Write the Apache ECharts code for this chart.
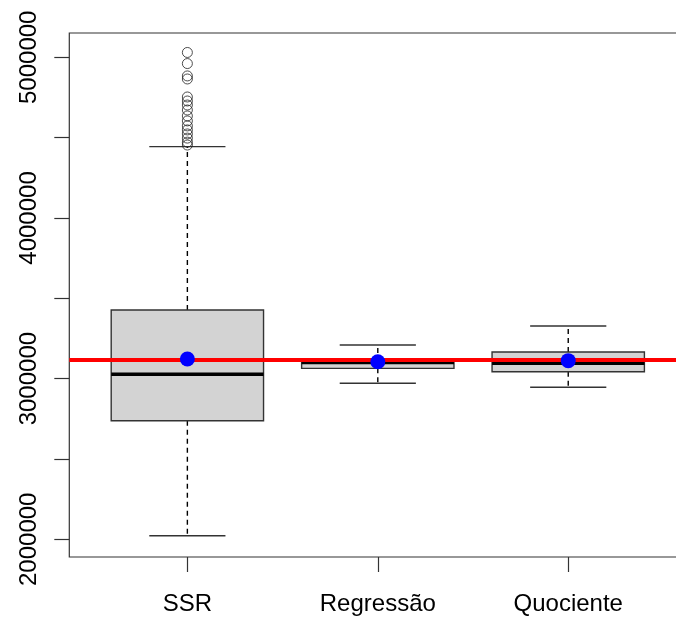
<!DOCTYPE html>
<html>
<head>
<meta charset="utf-8">
<script src="https://cdn.jsdelivr.net/npm/echarts@6/dist/echarts.min.js"></script>
<style>html,body{margin:0;padding:0;background:#fff}#c{width:676px;height:620px}</style>
</head>
<body>
<div id="c"></div>
<script>
// ---- data ----
var categories = ['SSR', 'Regressão', 'Quociente'];
var whiskerLow  = [2022000, 2971000, 2946000];
var q1          = [2738000, 3064000, 3043000];
var median      = [3027000, 3100000, 3095000];
var q3          = [3427000, 3103000, 3166000];
var whiskerHigh = [4444000, 3209000, 3328000];
var means       = [3122000, 3105000, 3112000];
var ssrOutliers = [5030000, 4961000, 4884000, 4865000, 4753000, 4728000, 4703000, 4672000,
                   4635000, 4604000, 4573000, 4548000, 4523000, 4497000, 4472000, 4454000];
var referenceLine = 3117000;
var yTicks  = [2000000, 2500000, 3000000, 3500000, 4000000, 4500000, 5000000];
var yLabels = [2000000, 3000000, 4000000, 5000000];

var boxData = categories.map(function (c, i) {
  return [i + 1, whiskerLow[i], q1[i], median[i], q3[i], whiskerHigh[i]];
});
var outlierData = ssrOutliers.map(function (v) { return [1, v]; });
var meanData = means.map(function (v, i) { return [i + 1, v]; });

var LINE = '#333';
var chart = echarts.init(document.getElementById('c'), null, {renderer: 'canvas'});
chart.setOption({
  animation: false,
  backgroundColor: '#fff',
  grid: {left: 69.3, top: 33, width: 617, height: 524, show: true, borderColor: LINE, borderWidth: 1.2,
         backgroundColor: 'transparent', containLabel: false, outerBoundsMode: 'none'},
  xAxis: {
    type: 'value', min: 0.38, max: 3.62,
    splitLine: {show: false},
    axisLine: {show: false},
    axisTick: {show: true, length: 15, customValues: [1, 2, 3], lineStyle: {color: LINE, width: 1.2}},
    axisLabel: {
      customValues: [1, 2, 3], margin: 35,
      fontFamily: 'Liberation Sans', fontSize: 24, color: '#000',
      formatter: function (v) { return categories[Math.round(v) - 1] || ''; }
    }
  },
  yAxis: {
    type: 'value', min: 1889800, max: 5151200,
    splitLine: {show: false},
    axisLine: {show: false},
    axisTick: {show: true, length: 15, customValues: yTicks, lineStyle: {color: LINE, width: 1.2}},
    axisLabel: {
      customValues: yLabels, rotate: 90, margin: 28,
      fontFamily: 'Liberation Sans', fontSize: 24, color: '#000',
      formatter: function (v) { return String(v); }
    }
  },
  series: [
    {
      type: 'custom', z: 2, silent: true,
      data: boxData,
      encode: {x: 0, y: [1, 2, 3, 4, 5]},
      renderItem: function (params, api) {
        var x = api.value(0);
        var w = api.size([0.8, 0])[0];
        var pLo = api.coord([x, api.value(1)]);
        var pQ1 = api.coord([x, api.value(2)]);
        var pMd = api.coord([x, api.value(3)]);
        var pQ3 = api.coord([x, api.value(4)]);
        var pHi = api.coord([x, api.value(5)]);
        var cx = pQ1[0];
        var dashStyle = {stroke: '#000', lineWidth: 1.4, lineDash: [5, 4]};
        var solid = {stroke: LINE, lineWidth: 1.4};
        return {
          type: 'group',
          children: [
            {type: 'line', shape: {x1: cx, y1: pQ3[1], x2: cx, y2: pHi[1]}, style: dashStyle},
            {type: 'line', shape: {x1: cx, y1: pQ1[1], x2: cx, y2: pLo[1]}, style: dashStyle},
            {type: 'line', shape: {x1: cx - w / 4, y1: pHi[1], x2: cx + w / 4, y2: pHi[1]}, style: solid},
            {type: 'line', shape: {x1: cx - w / 4, y1: pLo[1], x2: cx + w / 4, y2: pLo[1]}, style: solid},
            {type: 'rect', shape: {x: cx - w / 2, y: pQ3[1], width: w, height: pQ1[1] - pQ3[1]},
              style: {fill: '#d3d3d3', stroke: LINE, lineWidth: 1.4}},
            {type: 'line', shape: {x1: cx - w / 2, y1: pMd[1], x2: cx + w / 2, y2: pMd[1]},
              style: {stroke: '#000', lineWidth: 3.5}}
          ]
        };
      }
    },
    {
      type: 'scatter', z: 3, silent: true,
      data: outlierData,
      symbol: 'circle', symbolSize: 10,
      itemStyle: {color: 'rgba(0,0,0,0)', borderColor: '#222', borderWidth: 1}
    },
    {
      type: 'scatter', z: 4, silent: true, data: [],
      markLine: {
        silent: true, symbol: 'none', animation: false,
        label: {show: false},
        lineStyle: {color: '#ff0000', width: 4, type: 'solid'},
        data: [{yAxis: referenceLine}]
      }
    },
    {
      type: 'scatter', z: 5, silent: true,
      data: meanData,
      symbol: 'circle', symbolSize: 15,
      itemStyle: {color: '#0000ff', opacity: 1}
    }
  ]
});
</script>
</body>
</html>
